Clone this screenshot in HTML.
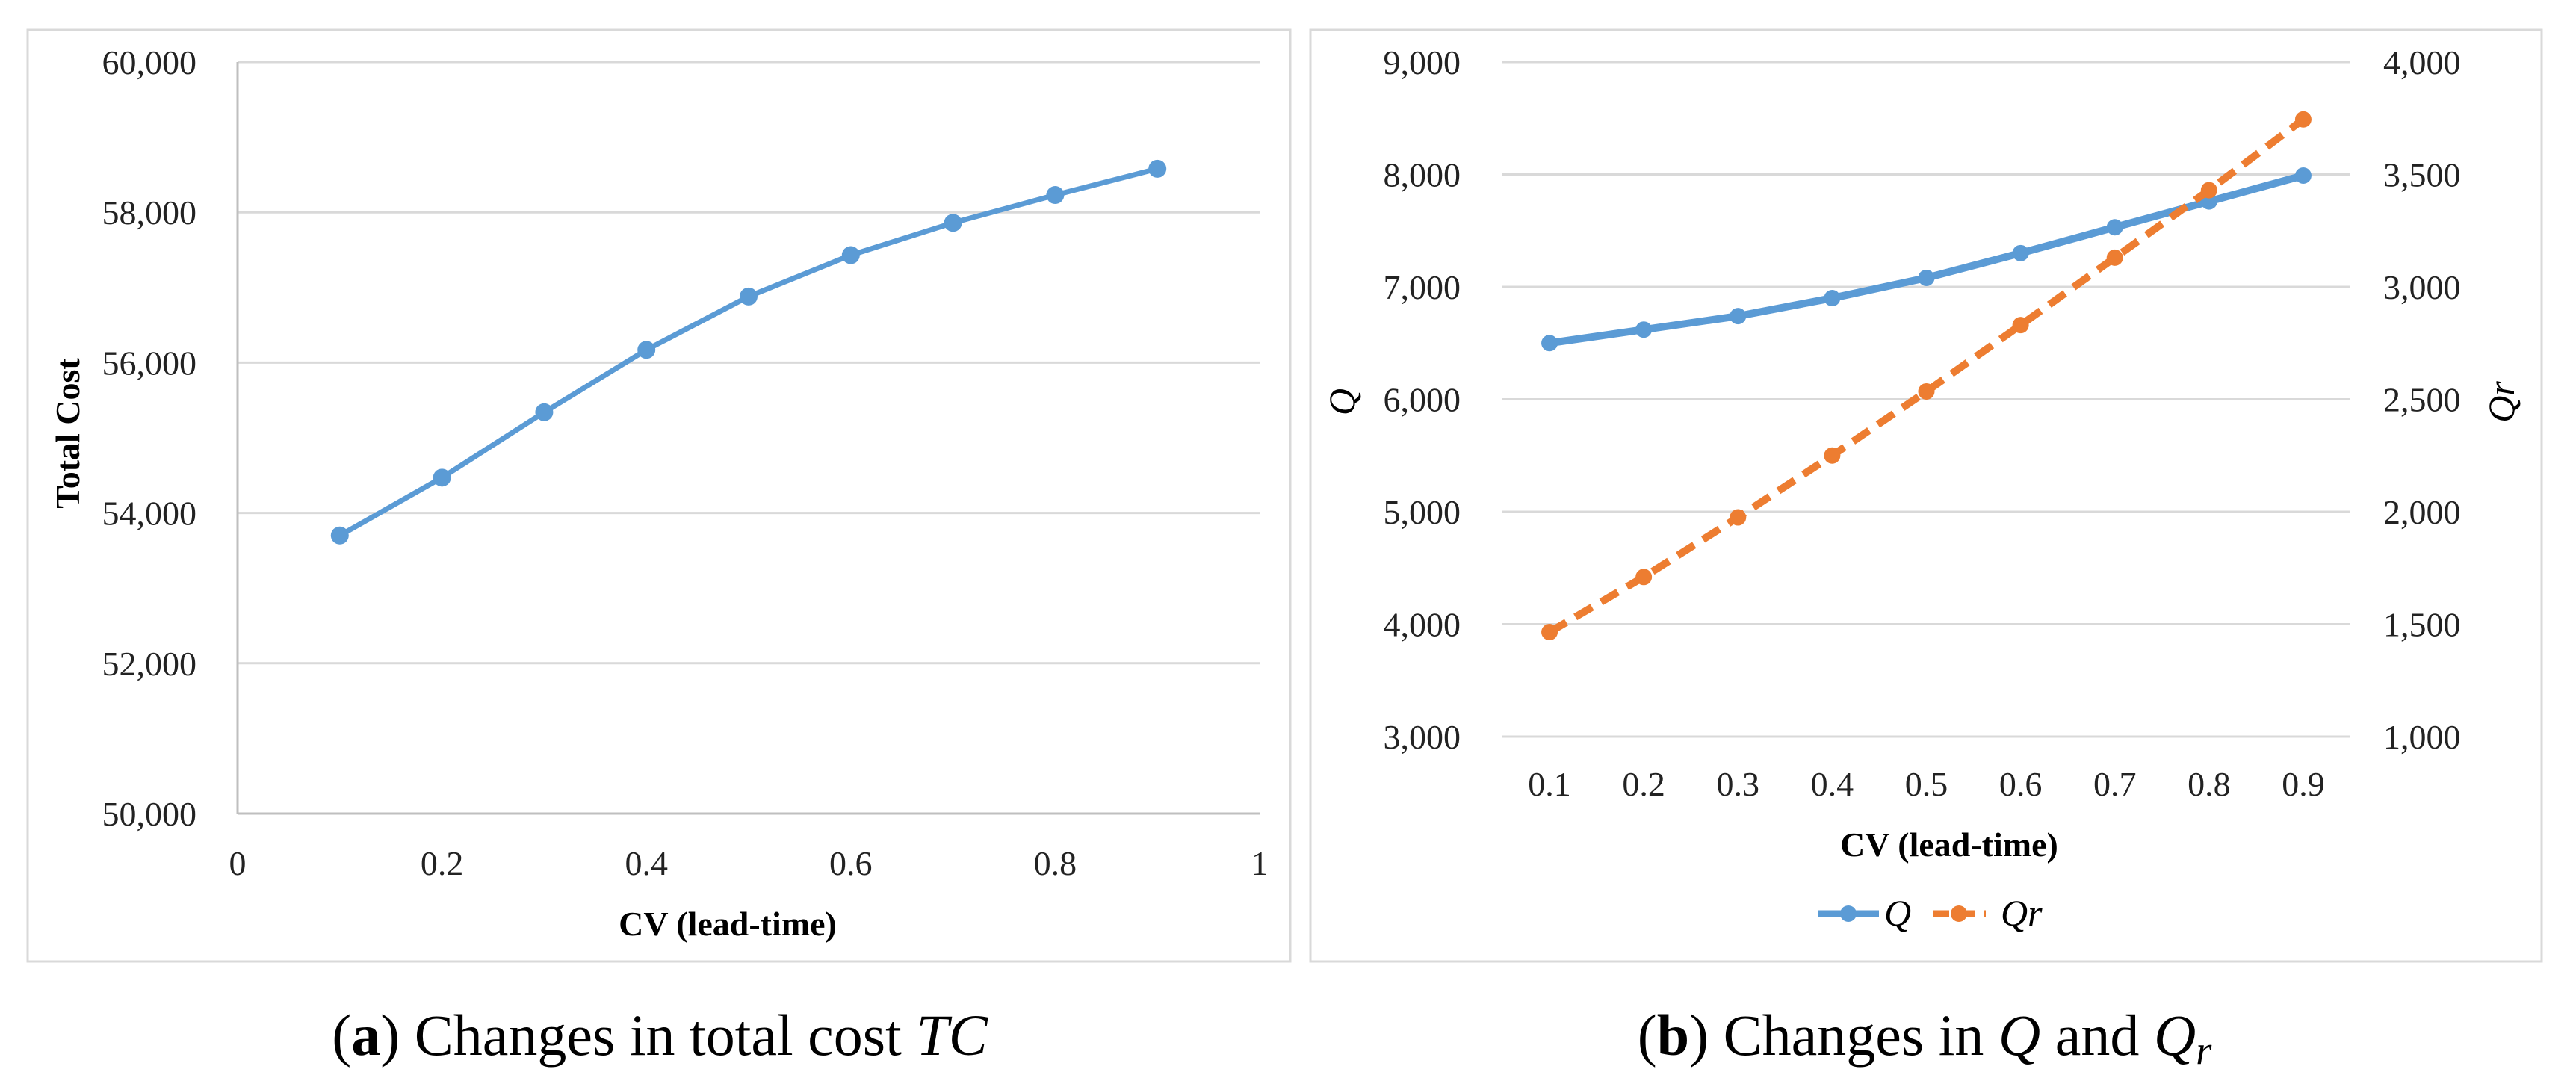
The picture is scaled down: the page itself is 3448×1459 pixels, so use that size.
<!DOCTYPE html>
<html><head><meta charset="utf-8"><style>
html,body{margin:0;padding:0;background:#fff;overflow:hidden;}
svg{display:block;font-family:"Liberation Serif",serif;}
</style></head><body>
<svg id="s" width="3448" height="1459" viewBox="0 0 3448 1459" xmlns="http://www.w3.org/2000/svg">
<rect x="37" y="40" width="1690" height="1247" fill="none" stroke="#d9d9d9" stroke-width="3"/>
<rect x="1754" y="40" width="1648" height="1247" fill="none" stroke="#d9d9d9" stroke-width="3"/>
<g id="ga"></g>
<g id="gb"></g>
<text x="90" y="580" font-size="46" font-weight="bold" text-anchor="middle" transform="rotate(-90 90 580)" dy="16">Total Cost</text>
<text x="974" y="1252" font-size="46" font-weight="bold" text-anchor="middle">CV (lead-time)</text>
<text x="883" y="1412" font-size="78" text-anchor="middle">(<tspan font-weight="bold">a</tspan>) Changes in total cost <tspan font-style="italic">TC</tspan></text>
<text x="1797" y="538" font-size="50" font-style="italic" text-anchor="middle" transform="rotate(-90 1797 538)" dy="16">Q</text>
<text x="3349" y="538" font-size="50" font-style="italic" text-anchor="middle" transform="rotate(-90 3349 538)" dy="16">Qr</text>
<text x="2609" y="1146" font-size="46" font-weight="bold" text-anchor="middle">CV (lead-time)</text>
<g>
<line x1="2433" y1="1223" x2="2515" y2="1223" stroke="#5B9BD5" stroke-width="9"/>
<circle cx="2474" cy="1223" r="11" fill="#5B9BD5"/>
<text x="2522" y="1239" font-size="50" font-style="italic">Q</text>
<line x1="2587" y1="1223" x2="2658" y2="1223" stroke="#ED7D31" stroke-width="9" stroke-dasharray="22,12"/>
<circle cx="2622" cy="1223" r="11" fill="#ED7D31"/>
<text x="2678" y="1239" font-size="50" font-style="italic">Qr</text>
</g>
<text x="2576" y="1412" font-size="78" text-anchor="middle">(<tspan font-weight="bold">b</tspan>) Changes in <tspan font-style="italic">Q</tspan> and <tspan font-style="italic">Q<tspan font-size="54" dy="12">r</tspan></tspan></text>
</svg>
<script>
const aX=[0.1,0.2,0.3,0.4,0.5,0.6,0.7,0.8,0.9];
const aTC=[53700,54470,55340,56170,56880,57430,57860,58230,58580];
const aYTicks=[50000,52000,54000,56000,58000,60000];
const aXTicks=[0,0.2,0.4,0.6,0.8,1];
const bCats=["0.1","0.2","0.3","0.4","0.5","0.6","0.7","0.8","0.9"];
const bQ=[6500,6620,6740,6900,7080,7300,7530,7760,7990];
const bQr=[1465,1710,1975,2250,2535,2830,3130,3430,3745];
const bLTicks=[3000,4000,5000,6000,7000,8000,9000];
const bRTicks=[1000,1500,2000,2500,3000,3500,4000];
const NS="http://www.w3.org/2000/svg";
function mk(p,t,at){const e=document.createElementNS(NS,t);for(const k in at)e.setAttribute(k,at[k]);p.appendChild(e);return e;}
const fmt=v=>v.toLocaleString('en-US');
// chart a
const ga=document.getElementById('ga');
const aL=318,aR=1686,aT=83,aB=1089;
const ax=v=>aL+(v-0)/(1-0)*(aR-aL);
const ay=v=>aB-(v-50000)/(60000-50000)*(aB-aT);
aYTicks.forEach(v=>{
  const g=mk(ga,'line',{x1:aL,x2:aR,y1:ay(v),y2:ay(v),stroke:v===50000?'#bfbfbf':'#d9d9d9','stroke-width':3});
  
  
  const t=mk(ga,'text',{x:263,y:ay(v)+16,'font-size':46,'text-anchor':'end',fill:'#222'});t.textContent=fmt(v);
  
  
});
const av=mk(ga,'line',{x1:aL,x2:aL,y1:aT,y2:aB,stroke:'#bfbfbf','stroke-width':3});


aXTicks.forEach(v=>{
  const t=mk(ga,'text',{x:ax(v),y:1171,'font-size':46,'text-anchor':'middle',fill:'#222'});t.textContent=String(v);
  
  
});
const ap=mk(ga,'polyline',{points:aX.map((x,i)=>ax(x)+','+ay(aTC[i])).join(' '),fill:'none',stroke:'#5B9BD5','stroke-width':7,'stroke-linejoin':'round'});


aX.forEach((x,i)=>{const c=mk(ga,'circle',{cx:ax(x),cy:ay(aTC[i]),r:12,fill:'#5B9BD5'});
  
  });
// chart b
const gb=document.getElementById('gb');
const bL=2011,bR=3146,bT=83,bB=986;
const step=(bR-bL)/bCats.length;
const bx=i=>bL+step*(i+0.5);
const byL=v=>bB-(v-3000)/(9000-3000)*(bB-bT);
const byR=v=>bB-(v-1000)/(4000-1000)*(bB-bT);
bLTicks.forEach((v,i)=>{
  const g=mk(gb,'line',{x1:bL,x2:bR,y1:byL(v),y2:byL(v),stroke:'#d9d9d9','stroke-width':3});
  
  
  const t=mk(gb,'text',{x:1955,y:byL(v)+16,'font-size':46,'text-anchor':'end',fill:'#222'});t.textContent=fmt(v);
  
  
});
bRTicks.forEach(v=>{
  const t=mk(gb,'text',{x:3190,y:byR(v)+16,'font-size':46,'text-anchor':'start',fill:'#222'});t.textContent=fmt(v);
  
  
});
bCats.forEach((c,i)=>{
  const t=mk(gb,'text',{x:bx(i),y:1065,'font-size':46,'text-anchor':'middle',fill:'#222'});t.textContent=c;
  
  
});
const pq=mk(gb,'polyline',{points:bQ.map((v,i)=>bx(i)+','+byL(v)).join(' '),fill:'none',stroke:'#5B9BD5','stroke-width':10,'stroke-linejoin':'round'});


bQ.forEach((v,i)=>{const c=mk(gb,'circle',{cx:bx(i),cy:byL(v),r:11,fill:'#5B9BD5'});
  
  });
const pr=mk(gb,'polyline',{points:bQr.map((v,i)=>bx(i)+','+byR(v)).join(' '),fill:'none',stroke:'#ED7D31','stroke-width':10,'stroke-dasharray':'26,14','stroke-linejoin':'round'});


bQr.forEach((v,i)=>{const c=mk(gb,'circle',{cx:bx(i),cy:byR(v),r:11,fill:'#ED7D31'});
  
  });
</script>
</body></html>
